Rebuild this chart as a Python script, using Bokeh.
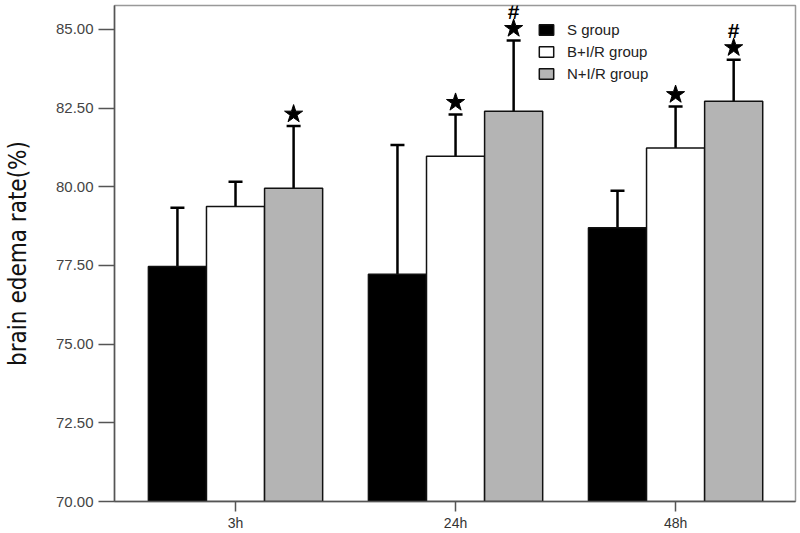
import numpy as np
from bokeh.plotting import figure
from bokeh.models import (ColumnDataSource, Whisker, TeeHead, Range1d, FixedTicker,
                          PrintfTickFormatter, Legend, LegendItem)
from bokeh.core.properties import value
from bokeh.embed import file_html
from bokeh.resources import INLINE

# ---- data ----
times = ["3h", "24h", "48h"]
groups = ["S group", "B+I/R group", "N+I/R group"]
s_mean = [77.47, 77.22, 78.70]
s_sd = [1.86, 4.11, 1.17]
b_mean = [79.37, 80.97, 81.23]
b_sd = [0.79, 1.33, 1.32]
n_mean = [79.95, 82.40, 82.72]
n_sd = [1.98, 2.25, 1.32]
# significance marks (star: vs S group, hash: vs B+I/R group)
b_star = [False, True, True]
n_star = [True, True, True]
n_hash = [False, True, True]
y_ticks = [70.0, 72.5, 75.0, 77.5, 80.0, 82.5, 85.0]

# ---- styles ----
colors = ["#000000", "#ffffff", "#b4b4b4"]
offsets = [-0.264, 0.0, 0.264]
bar_w = 0.264
FONT = "Liberation Sans"
NARROW = "'DejaVu Sans Condensed', 'Liberation Sans', sans-serif"

p = figure(width=800, height=533, output_backend="svg", toolbar_location=None,
           x_range=Range1d(-0.05, 3.045), y_range=Range1d(70, 85.76),
           min_border_left=114, min_border_right=5, min_border_top=5, min_border_bottom=32)
p.background_fill_color = "white"
p.border_fill_color = "white"
p.outline_line_color = "#999999"
p.outline_line_width = 1.5
p.xgrid.visible = False
p.ygrid.visible = False

centers = np.arange(len(times)) + 0.5
means = [s_mean, b_mean, n_mean]
sds = [s_sd, b_sd, n_sd]

renderers = []
for g, (m, sd, c, off) in enumerate(zip(means, sds, colors, offsets)):
    m = np.array(m)
    sd = np.array(sd)
    x = centers + off
    src = ColumnDataSource(dict(x=x, top=m, upper=m + sd, lower=m - sd))
    r = p.vbar(x="x", top="top", bottom=70, width=bar_w, source=src,
               fill_color=c, line_color="#111111", line_width=1.5)
    renderers.append(r)
    w = Whisker(base="x", upper="upper", lower="lower", source=src,
                line_color="black", line_width=2.5,
                upper_head=TeeHead(size=14, line_width=2.5, line_color="black"),
                lower_head=TeeHead(size=14, line_width=2.5, line_color="black"))
    p.add_layout(w)

# significance markers
star_gap = 0.38
hash_gap = 0.55
bx, by = [], []
for i in range(len(times)):
    if b_star[i]:
        bx.append(centers[i] + offsets[1]); by.append(b_mean[i] + b_sd[i] + star_gap)
    if n_star[i]:
        bx.append(centers[i] + offsets[2]); by.append(n_mean[i] + n_sd[i] + star_gap)
p.scatter(bx, by, marker="star", size=19, fill_color="black", line_color="black")
hx, hy = [], []
for i in range(len(times)):
    if n_hash[i]:
        hx.append(centers[i] + offsets[2]); hy.append(n_mean[i] + n_sd[i] + star_gap + hash_gap)
p.text(hx, hy, text=["#"] * len(hx), text_font=value(FONT), text_font_size="21px",
       text_font_style="bold", text_align="center", text_baseline="middle", text_color="black")

# axes
p.yaxis.ticker = FixedTicker(ticks=y_ticks)
p.yaxis.formatter = PrintfTickFormatter(format="%.2f")
p.yaxis.axis_label = "brain edema rate(%)"
p.yaxis.axis_label_text_font = NARROW
p.yaxis.axis_label_text_font_style = "normal"
p.yaxis.axis_label_text_font_size = "24px"
p.yaxis.axis_label_text_color = "#111111"
p.yaxis.axis_label_standoff = 21
p.yaxis.major_label_text_font = FONT
p.yaxis.major_label_text_font_size = "15px"
p.yaxis.major_label_text_color = "#444444"
p.yaxis.major_tick_out = 16
p.yaxis.major_tick_in = 0
p.yaxis.major_label_standoff = 5
p.yaxis.minor_tick_line_color = None

p.xaxis.ticker = FixedTicker(ticks=list(centers))
p.xaxis.major_label_overrides = {float(c): t for c, t in zip(centers, times)}
p.xaxis.major_label_text_font = FONT
p.xaxis.major_label_text_font_size = "14px"
p.xaxis.major_label_text_color = "#333333"
p.xaxis.major_tick_out = 10
p.xaxis.major_tick_in = 0
p.xaxis.major_label_standoff = 3
p.xaxis.minor_tick_line_color = None

for ax in (p.xaxis, p.yaxis):
    ax.axis_line_color = "#555555"
    ax.axis_line_width = 1.5
    ax.major_tick_line_color = "#555555"
    ax.major_tick_line_width = 1.5

legend = Legend(items=[LegendItem(label=g, renderers=[r]) for g, r in zip(groups, renderers)],
                location=(423, 419))
legend.border_line_alpha = 0
legend.background_fill_alpha = 0
legend.padding = 0
legend.margin = 0
legend.spacing = 5
legend.glyph_width = 18
legend.glyph_height = 13
legend.label_height = 13
legend.label_standoff = 12
legend.label_text_font = FONT
legend.label_text_font_size = "15px"
legend.label_text_color = "#222222"
p.add_layout(legend)

open("out.html", "w").write(file_html(p, INLINE))
